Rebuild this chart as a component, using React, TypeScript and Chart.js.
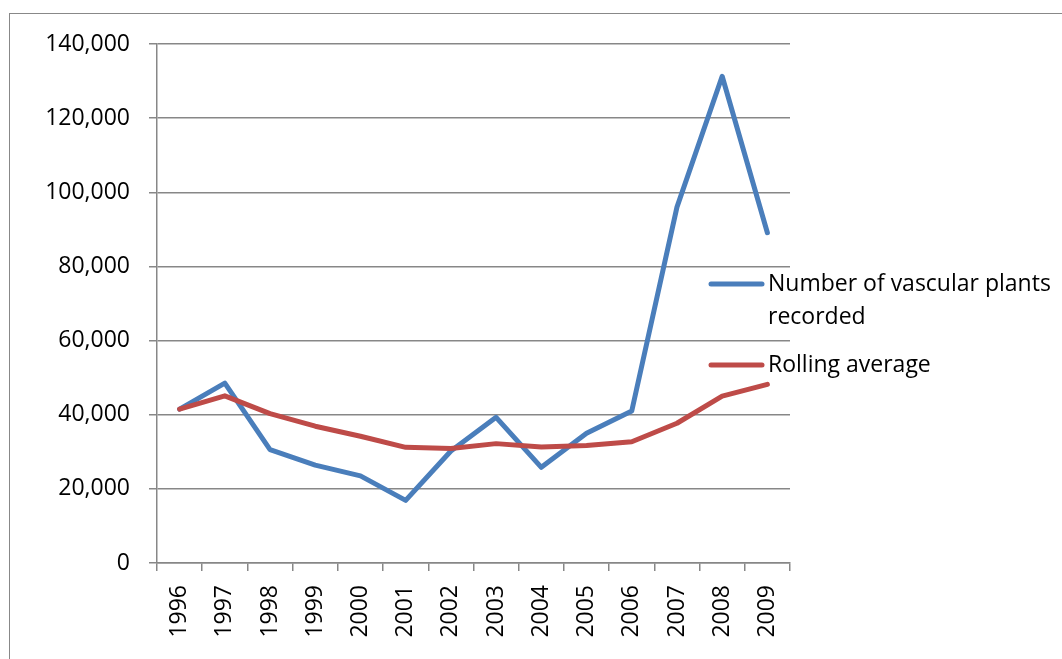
import React, { useEffect, useRef } from "react";
import { Chart, registerables } from "chart.js";

Chart.register(...registerables);

const years = ["1996", "1997", "1998", "1999", "2000", "2001", "2002", "2003", "2004", "2005", "2006", "2007", "2008", "2009"];
const vascularPlants = [41500, 48500, 30600, 26400, 23500, 16900, 30200, 39300, 25800, 35000, 41000, 96000, 131300, 89100];
const rollingAverage = [41500, 45100, 40300, 36900, 34200, 31200, 30900, 32200, 31300, 31700, 32700, 37700, 45000, 48200];
const seriesNames = ["Number of vascular plants|recorded", "Rolling average"];
const yMin = 0;
const yMax = 140000;
const yStep = 20000;

const FONT = "'Open Sans', sans-serif";
const GRID = "#878787";
const BLUE = "#4A7EBB";
const RED = "#BE4B48";

const legendPlugin = {
  id: "overlayLegend",
  afterDraw(chart: any) {
    const ctx = chart.ctx;
    const entries = [
      { lines: seriesNames[0].split("|"), color: BLUE, y: 284 },
      { lines: seriesNames[1].split("|"), color: RED, y: 365 },
    ];
    ctx.save();
    ctx.font = `23px ${FONT}`;
    ctx.textBaseline = "middle";
    ctx.textAlign = "left";
    entries.forEach((e) => {
      ctx.strokeStyle = e.color;
      ctx.lineWidth = 5;
      ctx.lineCap = "round";
      ctx.beginPath();
      ctx.moveTo(711, e.y);
      ctx.lineTo(762, e.y);
      ctx.stroke();
      ctx.fillStyle = "#000";
      e.lines.forEach((t, i) => {
        ctx.fillText(t, 768, e.y + i * 33);
      });
    });
    ctx.restore();
  },
};

export default function App() {
  const ref = useRef<HTMLCanvasElement | null>(null);
  useEffect(() => {
    if (!ref.current) return;
    const chart = new Chart(ref.current, {
      type: "line",
      data: {
        labels: years,
        datasets: [
          {
            label: seriesNames[0].replace("|", " "),
            data: vascularPlants,
            borderColor: BLUE,
            backgroundColor: BLUE,
            borderWidth: 5,
            pointRadius: 0,
            tension: 0,
            borderJoinStyle: "round",
            borderCapStyle: "round",
            order: 1,
          },
          {
            label: seriesNames[1],
            data: rollingAverage,
            borderColor: RED,
            backgroundColor: RED,
            borderWidth: 5,
            pointRadius: 0,
            tension: 0,
            borderJoinStyle: "round",
            borderCapStyle: "round",
            order: 0,
          },
        ],
      },
      options: {
        animation: false,
        responsive: false,
        maintainAspectRatio: false,
        layout: { padding: { left: 0, top: 44, right: 272, bottom: 0 } },
        plugins: { legend: { display: false }, tooltip: { enabled: false } },
        scales: {
          x: {
            type: "category",
            offset: true,
            afterFit: (s: any) => {
              s.height = 96;
            },
            grid: {
              offset: true,
              drawOnChartArea: false,
              drawTicks: true,
              tickLength: 8,
              color: GRID,
              lineWidth: 1.5,
            },
            border: { display: true, color: GRID, width: 1.5 },
            ticks: {
              minRotation: 90,
              maxRotation: 90,
              autoSkip: false,
              padding: 14,
              color: "#000",
              font: { family: FONT, size: 23 },
            },
          },
          y: {
            min: yMin,
            max: yMax,
            afterFit: (s: any) => {
              s.width = 157;
            },
            grid: {
              color: GRID,
              lineWidth: 1.5,
              tickLength: 8,
            },
            border: { display: true, color: GRID, width: 1.5 },
            ticks: {
              stepSize: yStep,
              padding: 19,
              color: "#000",
              font: { family: FONT, size: 23 },
            },
          },
        },
      },
      plugins: [legendPlugin],
    } as any);
    return () => chart.destroy();
  }, []);

  return (
    <div style={{ position: "fixed", left: 0, top: 0, width: 1062, height: 659, overflow: "hidden", background: "#fff" }}>
      <div
        style={{
          position: "absolute",
          left: 9,
          top: 13,
          width: 1200,
          height: 800,
          border: "1.5px solid #888888",
          boxSizing: "border-box",
        }}
      />
      <canvas ref={ref} width={1062} height={659} style={{ position: "absolute", left: 0, top: 0, width: 1062, height: 659 }} />
    </div>
  );
}
